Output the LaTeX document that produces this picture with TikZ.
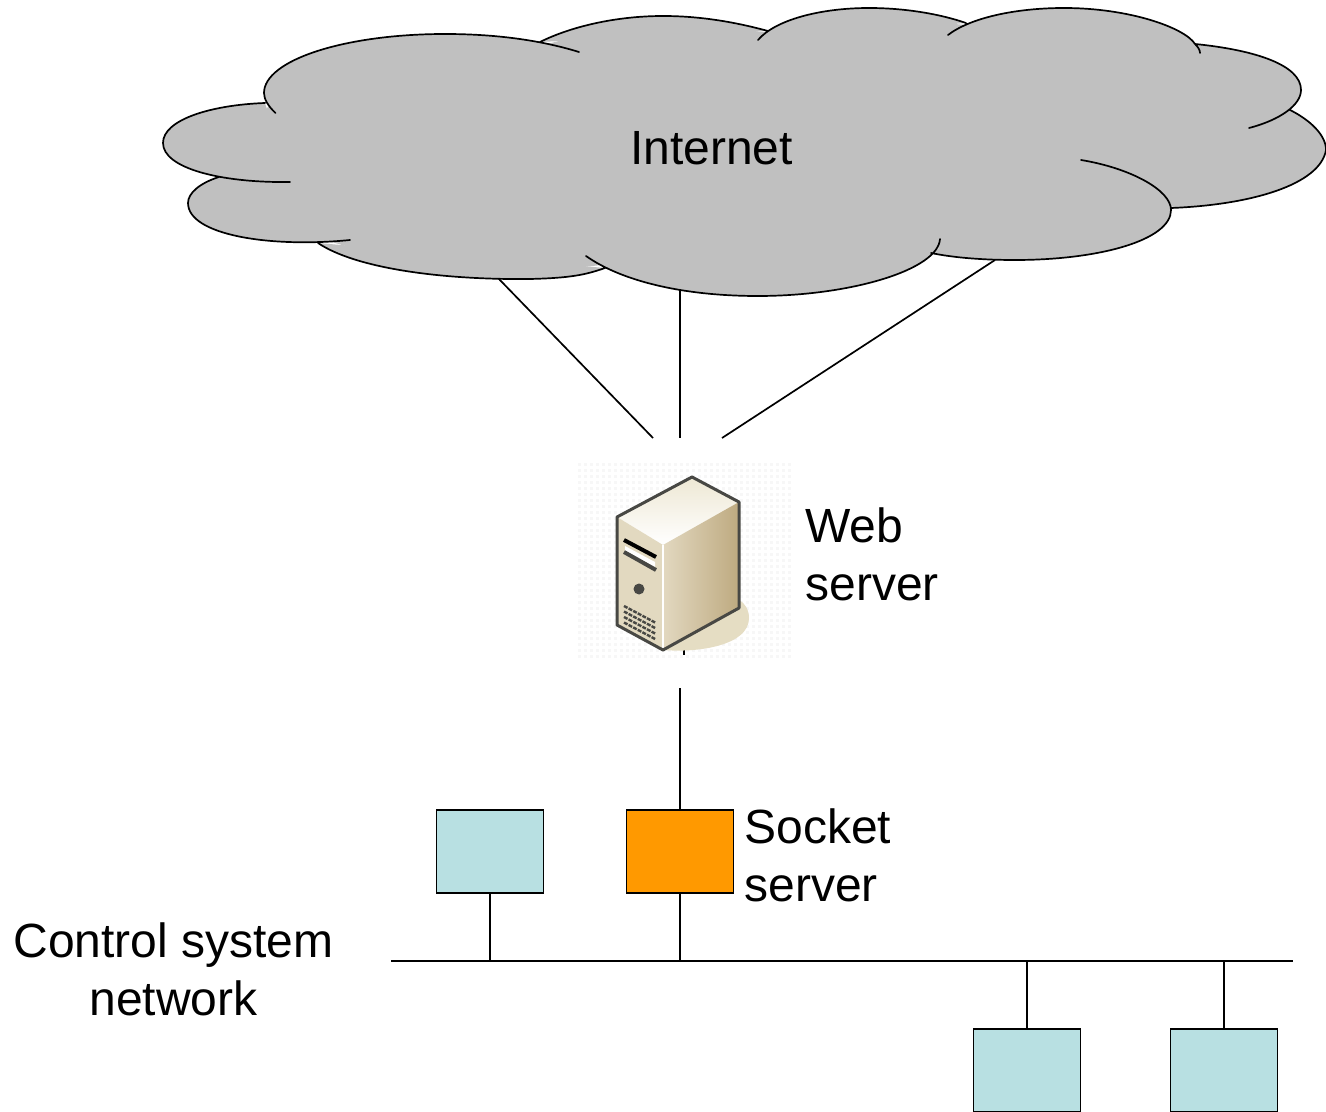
\documentclass[tikz,border=0pt]{standalone}
\usepackage{fontspec}
\setmainfont{Liberation Sans}
\definecolor{cloudgray}{RGB}{192,192,192}
\definecolor{boxblue}{RGB}{184,224,226}
\definecolor{boxorange}{RGB}{255,153,0}
\definecolor{srvdark}{RGB}{72,72,68}
\definecolor{srvtop}{RGB}{238,232,212}
\definecolor{srvfront}{RGB}{226,217,192}
\definecolor{srvside1}{RGB}{226,216,192}
\definecolor{srvside2}{RGB}{190,170,128}
\definecolor{srvshadow}{RGB}{229,221,195}
\newcommand\lobes{
(275.5,113) .. controls (268,106) and (264,99) .. (264,93) .. controls (264,60) and (345,34) .. (445,34) .. controls (495,34) and (540,40) .. (579,52)
(540,42) .. controls (570,27) and (615,16) .. (663,16) .. controls (700,16) and (735,22) .. (768,31)
(758,40) .. controls (775,20) and (820,8) .. (869,8) .. controls (905,8) and (940,14) .. (966,23)
(948,35) .. controls (970,18) and (1015,8) .. (1064,8) .. controls (1130,8) and (1185,28) .. (1195,44) .. controls (1198,47) and (1200,50) .. (1200,53)
(1195,44) .. controls (1255,50) and (1301,65) .. (1301,90) .. controls (1301,105) and (1280,120) .. (1249,128)
(1290,110) .. controls (1310,120) and (1326,135) .. (1326,150) .. controls (1320,185) and (1250,205) .. (1171,208)
(1081,160) .. controls (1130,168) and (1171,190) .. (1171,210) .. controls (1171,240) and (1100,260) .. (1015,260) .. controls (985,260) and (955,258) .. (931,253)
(940,239) .. controls (938,270) and (850,296) .. (758,296) .. controls (680,296) and (620,280) .. (586,256)
(605,268) .. controls (585,275) and (570,278) .. (530,279) .. controls (440,280) and (355,268) .. (318,243)
(350,240) .. controls (270,248) and (188,235) .. (188,203) .. controls (188,193) and (200,183) .. (219,177)
(290,182) .. controls (220,183) and (163,168) .. (163,143) .. controls (163,120) and (210,105) .. (265,103)
}
\tikzset{
  line/.style={draw=black,line width=0.85pt},
  label/.style={font=\fontsize{24}{29}\selectfont,inner sep=0pt,text=black},
  hostbox/.style={draw=black,line width=0.85pt,fill=boxblue,minimum width=53.5pt,minimum height=41.5pt,inner sep=0pt},
  socketbox/.style={hostbox,fill=boxorange},
}
\begin{document}
\begin{tikzpicture}[x=0.5pt,y=-0.5pt]
\useasboundingbox (0,0) rectangle (1326,1112);
\clip (0,0) rectangle (1326,1112);
% connector ends
\coordinate (c1) at (498,278);
\coordinate (c2) at (680,290);
\coordinate (c3) at (995,260);
\coordinate (w1) at (653,438);
\coordinate (w2) at (680,438);
\coordinate (w3) at (722,438);
\coordinate (wb) at (680,688);
\coordinate (wt1) at (684,650);
\coordinate (wt2) at (684,655);
\coordinate (busL) at (391,961);
\coordinate (busR) at (1293,961);
\draw[line] (c1) -- (w1);
\draw[line] (c2) -- (w2);
\draw[line] (c3) -- (w3);
\draw[line] (wt1) -- (wt2);
% cloud
\fill[cloudgray] \lobes;
\fill[cloudgray] (300,80) -- (445,45) -- (540,46) -- (600,30) -- (700,28) -- (745,30) -- (767,32.5) -- (780,28) -- (870,20) -- (935,22) -- (965,25) -- (985,22) -- (1064,20) -- (1190,42) -- (1196,46) -- (1210,52) -- (1285,90) -- (1300,150) -- (1200,202) -- (1172,206.5) -- (1165,225) -- (1100,240) -- (1015,252) -- (935,248) -- (760,288) -- (640,270) -- (610,264) -- (540,272) -- (400,262) -- (325,240) -- (300,238) -- (200,205) -- (225,182) -- (175,143) -- (265,110) -- (275,100) -- cycle;
\draw[line,line cap=round] \lobes;
\node[label,anchor=center] (internet) at (711.5,148) {Internet};
% server icon background dots
\foreach \i in {0,...,35} \foreach \j in {0,...,32} {
  \pgfmathsetmacro\dx{578+6*\i}\pgfmathsetmacro\dy{463+6*\j}
  \fill[black!3] (\dx,\dy) rectangle ++(2.5,2.5);
}
% server icon
\fill[srvshadow] (663,650) .. controls (700,653) and (749,645) .. (749,618) .. controls (749,610) and (745,603) .. (739,600) -- cycle;
\shade[top color=srvtop,bottom color=white] (692,477) -- (739,502) -- (663,545) -- (617,517) -- cycle;
\shade[left color=srvside1,right color=srvside2] (663,545) -- (739,502) -- (739,608) -- (663,650) -- cycle;
\fill[srvfront] (617,517) -- (663,545) -- (663,650) -- (617,625) -- cycle;
\draw[white,line width=1pt] (663,545) -- (663,650);
\draw[srvdark,line width=1.5pt,line join=round] (692,477) -- (739,502) -- (739,608) -- (663,650) -- (617,625) -- (617,517) -- cycle;
% front details
\draw[black,line width=2pt] (624,540) -- (656,557);
\fill[white] (625,546) -- (655,562) -- (655,568) -- (625,552) -- cycle;
\draw[srvdark,line width=2pt] (624,552) -- (656,570);
\fill[srvdark] (639,589) circle [radius=5.5];
\foreach \k in {0,1,2,3} \draw[srvdark,line width=1.2pt,dash pattern=on 2pt off 0.6pt] (624,606+5.5*\k) -- (656,623+5.5*\k);
% connectors below
\draw[line] (wb) -- ++(0,122);
\node[hostbox] (h1) at (490,851.5) {};
\node[socketbox] (sock) at (680,851.5) {};
\node[hostbox] (h3) at (1027,1070.5) {};
\node[hostbox] (h4) at (1224,1070.5) {};
\draw[line] (busL) -- (busR);
\draw[line] (h1.south) -- (h1.south |- busL);
\draw[line] (sock.south) -- (sock.south |- busL);
\draw[line] (h3.north) -- (h3.north |- busL);
\draw[line] (h4.north) -- (h4.north |- busL);
% labels
\node[label,anchor=base west] (web1) at (805,542) {Web};
\node[label,anchor=base west] (web2) at (805,600) {server};
\node[label,anchor=base west] (sk1) at (744,843) {Socket};
\node[label,anchor=base west] (sk2) at (744,901) {server};
\node[label,anchor=base] (cs1) at (173.5,957) {Control system};
\node[label,anchor=base] (cs2) at (173.5,1015) {network};
\end{tikzpicture}
\end{document}
